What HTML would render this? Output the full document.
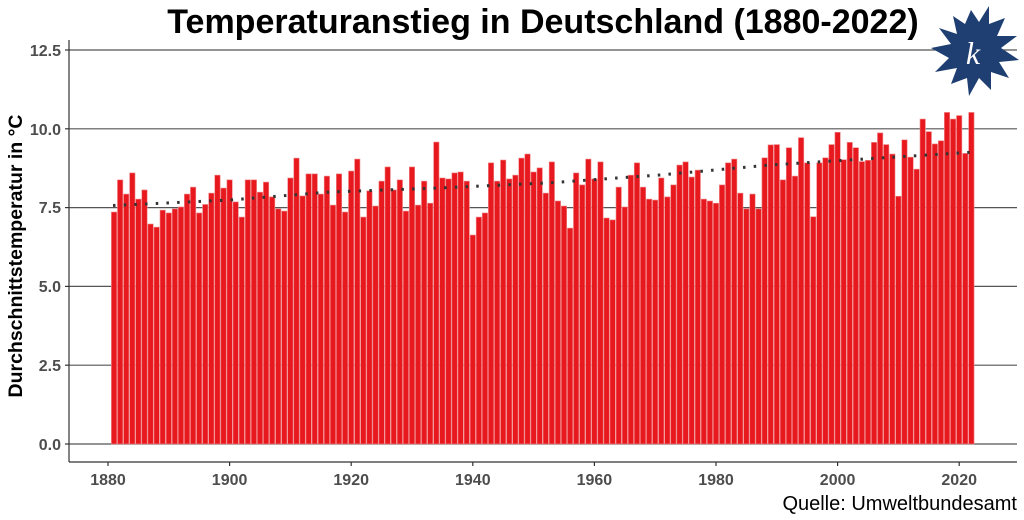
<!DOCTYPE html>
<html><head><meta charset="utf-8"><style>
body{margin:0;background:#fff;}
svg{display:block;font-family:"Liberation Sans",Arial,sans-serif;}
</style></head><body>
<svg id="c" width="1024" height="520" viewBox="0 0 1024 520" xmlns="http://www.w3.org/2000/svg">
<rect width="1024" height="520" fill="#fff"/>
<g id="grid" stroke="#555" stroke-width="1.2">
<line x1="69" y1="50" x2="1017" y2="50"/>
<line x1="69" y1="128.8" x2="1017" y2="128.8"/>
<line x1="69" y1="207.6" x2="1017" y2="207.6"/>
<line x1="69" y1="286.4" x2="1017" y2="286.4"/>
<line x1="69" y1="365.2" x2="1017" y2="365.2"/>
<line x1="69" y1="444" x2="1017" y2="444"/>
</g>
<g id="bars" fill="#e8191e" stroke="#f08a8c" stroke-width="0.6"></g>
<polyline points="113,205.5 230,200 330,192 440,188 551,182.7 660,175 770,165 880,158 975,152" fill="none" stroke="#333" stroke-width="3" stroke-dasharray="2.5 8.2" stroke-linecap="butt"/>
<g stroke="#333" stroke-width="1.2">
<line x1="69" y1="40" x2="69" y2="462"/>
<line x1="69" y1="462" x2="1017" y2="462"/>
</g>
<g stroke="#333" stroke-width="1.2" id="ticks"></g>
<g fill="#4d4d4d" font-size="16" font-weight="bold" text-anchor="end">
<text x="61" y="56">12.5</text>
<text x="61" y="135">10.0</text>
<text x="61" y="213">7.5</text>
<text x="61" y="292">5.0</text>
<text x="61" y="371">2.5</text>
<text x="61" y="450">0.0</text>
</g>
<g fill="#4d4d4d" font-size="16" font-weight="bold" text-anchor="middle">
<text x="108" y="485">1880</text>
<text x="229.6" y="485">1900</text>
<text x="351.2" y="485">1920</text>
<text x="472.8" y="485">1940</text>
<text x="594.4" y="485">1960</text>
<text x="716" y="485">1980</text>
<text x="837.6" y="485">2000</text>
<text x="959.2" y="485">2020</text>
</g>
<text transform="translate(22,256) rotate(-90)" text-anchor="middle" font-size="19.5" font-weight="bold" fill="#000">Durchschnittstemperatur in °C</text>
<text x="543" y="33" text-anchor="middle" font-size="34" font-weight="bold" fill="#000">Temperaturanstieg in Deutschland (1880-2022)</text>
<text x="1017" y="510" text-anchor="end" font-size="20" fill="#000">Quelle: Umweltbundesamt</text>
<g transform="translate(975,52)" fill="#1f3f73">
<path d="M-10,-28 L-4,-42 L4,-30 L14,-46 L14,-28 L30,-34 L22,-16 L42,-16 L26,-4 L44,8 L24,10 L34,26 L16,20 L16,38 L4,26 L-6,44 L-8,26 L-24,32 L-18,16 L-40,20 L-26,6 L-44,-4 L-24,-8 L-36,-24 L-18,-18 L-22,-36 Z"/>
<text x="-2" y="12" font-size="32" font-style="italic" fill="#fff" font-family="Liberation Serif,serif" text-anchor="middle">k</text>
</g>
</svg>
<script>
var v=[7.36,8.38,7.93,8.6,7.77,8.06,6.98,6.88,7.42,7.33,7.46,7.52,7.93,8.15,7.33,7.6,7.96,8.53,8.12,8.38,7.68,7.2,8.38,8.38,7.99,8.31,7.84,7.46,7.39,8.44,9.07,7.87,8.57,8.57,7.93,8.5,7.58,8.57,7.36,8.66,9.04,7.2,8.03,7.55,8.34,8.79,8.06,8.38,7.39,8.79,7.58,8.34,7.64,9.58,8.44,8.41,8.6,8.63,8.34,6.63,7.2,7.33,8.92,8.34,9.01,8.41,8.53,9.07,9.2,8.63,8.76,7.96,8.95,7.71,7.55,6.85,8.6,8.22,9.04,8.41,8.95,7.17,7.11,8.15,7.52,8.53,8.92,8.15,7.77,7.74,8.44,7.84,8.22,8.85,8.95,8.47,8.69,7.77,7.71,7.64,8.22,8.92,9.04,7.96,7.46,7.93,7.46,9.08,9.49,9.5,8.38,9.4,8.5,9.72,8.92,7.21,8.92,9.08,9.5,9.89,9.02,9.57,9.4,8.96,9.0,9.57,9.87,9.5,9.2,7.86,9.65,9.1,8.72,10.31,9.91,9.52,9.62,10.52,10.31,10.42,9.22,10.52];
var g=document.getElementById("bars"),s="";
for(var i=0;i<v.length;i++){var yr=1881+i,cx=108+(yr-1880)*6.08,h=v[i]*31.52;
s+='<rect x="'+(cx-2.7).toFixed(2)+'" y="'+(444-h).toFixed(2)+'" width="5.4" height="'+h.toFixed(2)+'"/>';}
g.innerHTML=s;
var t="";for(var k=0;k<6;k++){var y=50+k*78.8;t+='<line x1="65" y1="'+y+'" x2="69" y2="'+y+'"/>';}
for(var k=0;k<8;k++){var x=108+k*121.6;t+='<line x1="'+x+'" y1="462" x2="'+x+'" y2="466"/>';}
document.getElementById("ticks").innerHTML=t;
</script>
</body></html>
